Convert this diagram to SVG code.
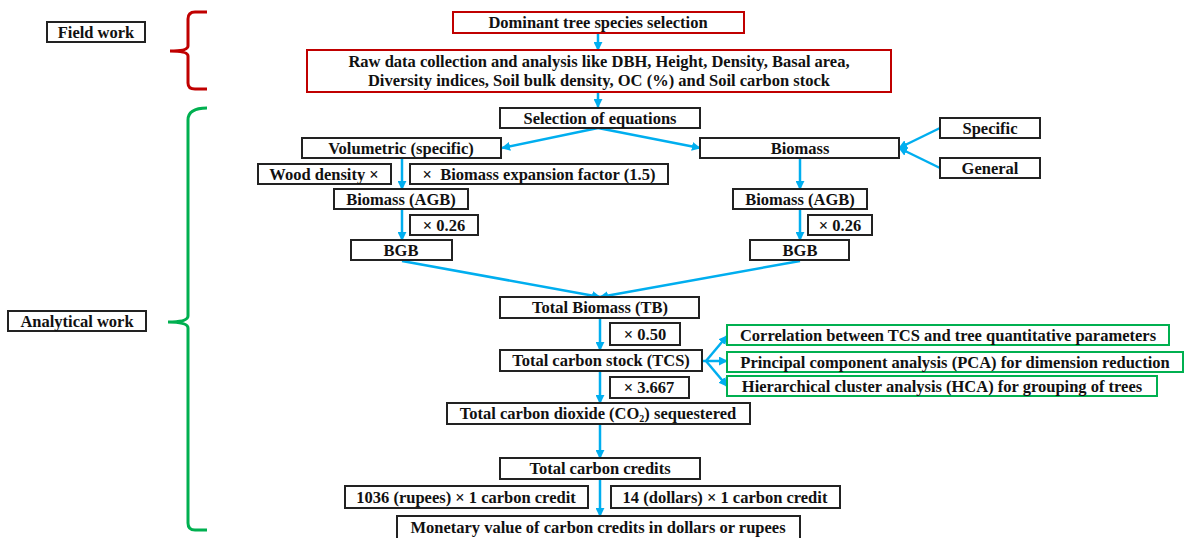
<svg xmlns="http://www.w3.org/2000/svg" width="1184" height="538" viewBox="0 0 1184 538">
<style>
text{font-family:'Liberation Serif','DejaVu Serif',serif;font-weight:700;font-size:16.5px;fill:#111;text-anchor:middle}
.b{fill:#fff;stroke:#222;stroke-width:2}
.r{fill:#fff;stroke:#C00000;stroke-width:2}
.g{fill:#fff;stroke:#00B050;stroke-width:2}
.c{stroke:#00AEEF;stroke-width:2.5;fill:none}
.a{stroke:#00AEEF;stroke-width:2.5;fill:none;marker-end:url(#ah)}
</style>
<defs>
<marker id="ah" viewBox="0 0 10 10" refX="9" refY="5" markerWidth="3.6" markerHeight="3.6" orient="auto" markerUnits="strokeWidth">
<path d="M0,0 L10,5 L0,10 Z" fill="#00AEEF"/>
</marker>
</defs>
<g id="braces">
<path d="M207,12 L195,12 Q188,12 188,19 L188,46 Q188,51 170,51 Q188,51 188,56 L188,83 Q188,89 195,89 L207,89" fill="none" stroke="#C00000" stroke-width="3"/>
<path d="M207,108 Q188,108 188,120 L188,316 Q188,322 168,322 Q188,322 188,328 L188,523 Q188,530 195,530 L207,530" fill="none" stroke="#00B050" stroke-width="3"/>
</g>
<g id="connectors">
<path class="a" d="M598,33 V50"/>
<path class="a" d="M598,92 V107"/>
<path class="a" d="M598,128 L502,148"/>
<path class="a" d="M598,128 L700,148"/>
<path class="a" d="M940,128 L899,148"/>
<path class="a" d="M940,168 L899,148"/>
<path class="a" d="M402,158 V189"/>
<path class="a" d="M402,209 V240"/>
<path class="a" d="M800,158 V189"/>
<path class="a" d="M800,209 V240"/>
<path class="a" d="M402,261 L600,297"/>
<path class="a" d="M800,261 L600,297"/>
<path class="a" d="M600,318 V350"/>
<path class="c" d="M702,361 L706,361"/>
<path class="a" d="M706,361 L727,336"/>
<path class="a" d="M706,361 L727,361"/>
<path class="a" d="M706,361 L727,386"/>
<path class="a" d="M600,371 V403"/>
<path class="a" d="M600,424 V458"/>
<path class="a" d="M600,480 V516"/>
</g>
<g id="field-work"><rect class="b" x="47" y="22" width="98" height="20"/><text x="96" y="37.5" font-family="Liberation Serif">Field work</text></g>
<g id="analytical-work"><rect class="b" x="8" y="311" width="138" height="20"/><text x="77" y="326.5" font-family="Liberation Serif">Analytical work</text></g>
<g id="dominant"><rect class="r" x="453" y="12" width="291" height="21"/><text x="598" y="28" font-family="Liberation Serif">Dominant tree species selection</text></g>
<g id="raw-data"><rect class="r" x="307" y="50" width="584" height="42"/><text x="599" y="67" font-family="Liberation Serif">Raw data collection and analysis like DBH, Height, Density, Basal area,</text><text x="599" y="86" font-family="Liberation Serif">Diversity indices, Soil bulk density, OC (%) and Soil carbon stock</text></g>
<g id="selection"><rect class="b" x="500" y="108" width="200" height="20"/><text x="600" y="123.5" font-family="Liberation Serif">Selection of equations</text></g>
<g id="volumetric"><rect class="b" x="302" y="138" width="199" height="20"/><text x="401" y="153.5" font-family="Liberation Serif">Volumetric (specific)</text></g>
<g id="biomass"><rect class="b" x="700" y="138" width="199" height="20"/><text x="800" y="153.5" font-family="Liberation Serif">Biomass</text></g>
<g id="specific"><rect class="b" x="940" y="118" width="100" height="20"/><text x="990" y="133.5" font-family="Liberation Serif">Specific</text></g>
<g id="general"><rect class="b" x="940" y="158" width="100" height="20"/><text x="990" y="173.5" font-family="Liberation Serif">General</text></g>
<g id="wood-density"><rect class="b" x="258" y="164" width="133" height="20"/><text x="324" y="179.5" font-family="Liberation Serif">Wood density ×</text></g>
<g id="bef"><rect class="b" x="410" y="164" width="258" height="20"/><text x="539" y="179.5" font-family="Liberation Serif" xml:space="preserve">×  Biomass expansion factor (1.5)</text></g>
<g id="agb-left"><rect class="b" x="334" y="189" width="134" height="20"/><text x="401" y="204.5" font-family="Liberation Serif">Biomass (AGB)</text></g>
<g id="mult-left"><rect class="b" x="410" y="215" width="68" height="20"/><text x="444" y="230.5" font-family="Liberation Serif">× 0.26</text></g>
<g id="bgb-left"><rect class="b" x="351" y="240" width="101" height="20"/><text x="401" y="255.5" font-family="Liberation Serif">BGB</text></g>
<g id="agb-right"><rect class="b" x="733" y="189" width="134" height="20"/><text x="800" y="204.5" font-family="Liberation Serif">Biomass (AGB)</text></g>
<g id="mult-right"><rect class="b" x="808" y="215" width="64" height="20"/><text x="840" y="230.5" font-family="Liberation Serif">× 0.26</text></g>
<g id="bgb-right"><rect class="b" x="750" y="240" width="99" height="20"/><text x="800" y="255.5" font-family="Liberation Serif">BGB</text></g>
<g id="tb"><rect class="b" x="500" y="297" width="199" height="21"/><text x="600" y="313" font-family="Liberation Serif">Total Biomass (TB)</text></g>
<g id="mult-050"><rect class="b" x="610" y="323" width="70" height="22"/><text x="645" y="339.5" font-family="Liberation Serif">× 0.50</text></g>
<g id="tcs"><rect class="b" x="500" y="350" width="202" height="21"/><text x="601" y="366" font-family="Liberation Serif">Total carbon stock (TCS)</text></g>
<g id="corr"><rect class="g" x="727" y="325" width="442" height="20"/><text x="948" y="340.5" font-family="Liberation Serif">Correlation between TCS and tree quantitative parameters</text></g>
<g id="pca"><rect class="g" x="727" y="352" width="456" height="20"/><text x="955" y="367.5" font-family="Liberation Serif">Principal component analysis (PCA) for dimension reduction</text></g>
<g id="hca"><rect class="g" x="727" y="376" width="430" height="20"/><text x="942" y="391.5" font-family="Liberation Serif">Hierarchical cluster analysis (HCA) for grouping of trees</text></g>
<g id="mult-3667"><rect class="b" x="610" y="377" width="79" height="21"/><text x="649" y="393" font-family="Liberation Serif">× 3.667</text></g>
<g id="co2"><rect class="b" x="447" y="403" width="303" height="21"/><text x="598" y="419" font-family="Liberation Serif">Total carbon dioxide (CO<tspan font-size="10" dy="3">2</tspan><tspan dy="-3">) sequestered</tspan></text></g>
<g id="credits"><rect class="b" x="500" y="458" width="200" height="21"/><text x="600" y="474" font-family="Liberation Serif">Total carbon credits</text></g>
<g id="rupees"><rect class="b" x="345" y="486" width="243" height="22"/><text x="466" y="502.5" font-family="Liberation Serif">1036 (rupees) × 1 carbon credit</text></g>
<g id="dollars"><rect class="b" x="611" y="486" width="229" height="22"/><text x="725" y="502.5" font-family="Liberation Serif">14 (dollars) × 1 carbon credit</text></g>
<g id="monetary"><rect class="b" x="397" y="516" width="403" height="24"/><text x="598" y="533" font-family="Liberation Serif">Monetary value of carbon credits in dollars or rupees</text></g>
</svg>
